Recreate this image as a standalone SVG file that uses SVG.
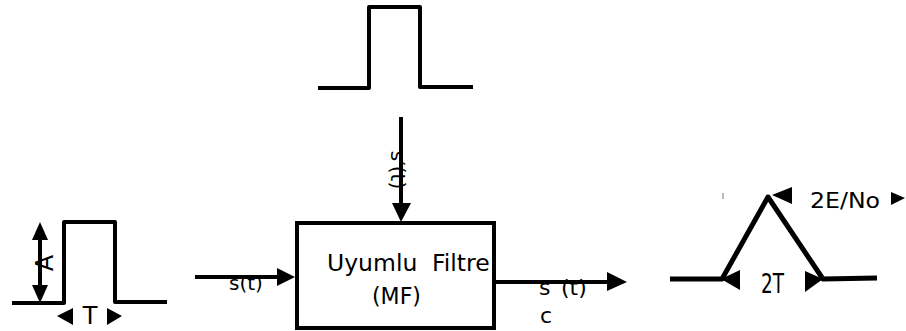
<svg xmlns="http://www.w3.org/2000/svg" width="906" height="331" viewBox="0 0 906 331">
<style>
.w{fill:none;stroke:#000;stroke-width:4;stroke-linejoin:round}
.ln{stroke:#000;stroke-width:4;fill:none}
.ah{fill:#000;stroke:none}
.t{font-family:"DejaVu Sans",sans-serif;fill:#000}
</style>
<rect width="906" height="331" fill="#fff"/>
<g id="pulse-top">
<polyline class="w" points="318,88 369,88 369,7 420,7 420,87 473,87"/>
</g>
<g id="pulse-input">
<polyline class="w" points="12,303 64,303 64,222 115,222 115,302 167,302"/>
<line class="ln" x1="40" y1="236" x2="40" y2="290"/>
<polygon class="ah" points="40,222 48,240 32,240"/>
<polygon class="ah" points="40,303 48,285 32,285"/>
<text class="t" font-size="24" text-anchor="middle" transform="translate(53,263) rotate(-90)">A</text>
<polygon class="ah" points="57,316 73,308 73,325"/>
<polygon class="ah" points="122,316 107,308 107,325"/>
<text class="t" font-size="24" x="90" y="324" text-anchor="middle">T</text>
</g>
<g id="filter">
<rect x="297" y="223" width="197" height="105" fill="none" stroke="#000" stroke-width="4"/>
<text class="t" font-size="23.5" y="271"><tspan x="327">Uyumlu</tspan><tspan x="432">Filtre</tspan></text>
<text class="t" font-size="23" x="372" y="304" textLength="49" lengthAdjust="spacingAndGlyphs">(MF)</text>
</g>
<g id="pulse-output">
<polyline class="w" points="670,279 722,279 768,197 823,279 877,278" style="stroke-width:5"/>
<line x1="723" y1="193" x2="723" y2="199" stroke="#777" stroke-width="1"/>
<polygon class="ah" points="772,195 792,187 792,204"/>
<polygon class="ah" points="905,198 891,192 891,205"/>
<text class="t" font-size="21" x="810" y="208" textLength="70" lengthAdjust="spacingAndGlyphs">2E/No</text>
<polygon class="ah" points="721,279 740,270 740,290"/>
<polygon class="ah" points="823,279 805,271 805,292"/>
<text class="t" font-size="26" x="761" y="293" textLength="23" lengthAdjust="spacingAndGlyphs">2T</text>
</g>
<g id="connectors">
<line class="ln" x1="195" y1="277" x2="280" y2="277"/>
<polygon class="ah" points="295,277 277,268 277,286"/>
<line class="ln" x1="401" y1="117" x2="401" y2="206"/>
<polygon class="ah" points="401,222 392,203 411,203"/>
<line class="ln" x1="494" y1="282" x2="610" y2="282"/>
<polygon class="ah" points="627,282 607,272 607,291"/>
</g>
<g id="labels">
<text class="t" font-size="20" x="229" y="290">s(t)</text>
<text class="t" font-size="20" text-anchor="middle" transform="translate(391,170) rotate(90)">s′(t)</text>
<text class="t" font-size="22" x="539" y="295">s</text>
<text class="t" font-size="22" x="561" y="295">(t)</text>
<text class="t" font-size="22" x="540" y="323">c</text>
</g>
</svg>
